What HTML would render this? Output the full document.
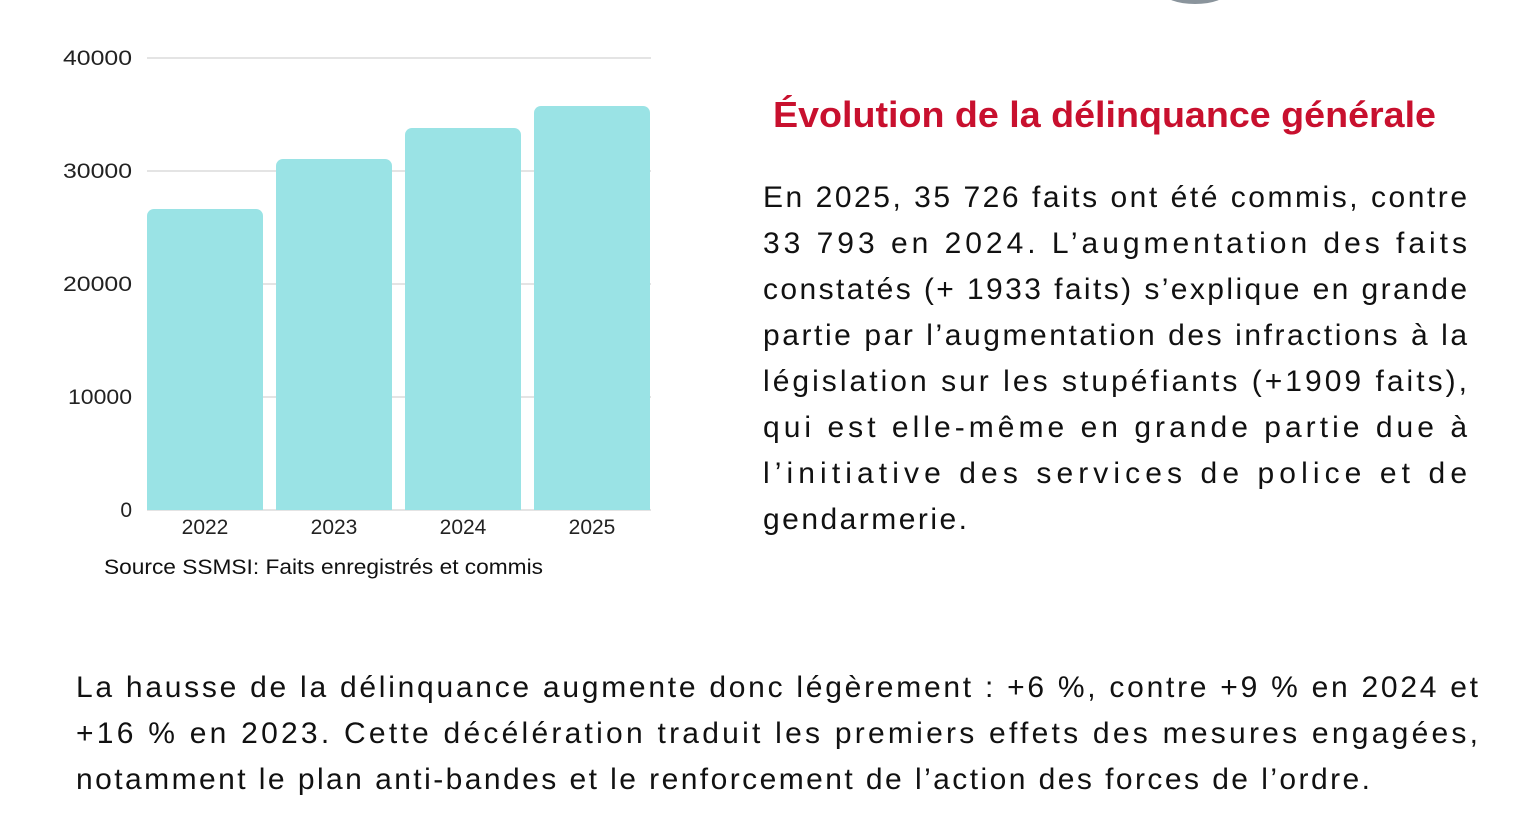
<!DOCTYPE html>
<html><head><meta charset="utf-8"><style>
html,body{margin:0;padding:0;background:#fff;}
svg{display:block;}
text{font-family:"Liberation Sans",sans-serif;}
</style></head><body>
<svg width="1516" height="822" viewBox="0 0 1516 822" xmlns="http://www.w3.org/2000/svg">
<ellipse cx="1195" cy="-8" rx="32" ry="12" fill="#8a949c"/>
<g stroke="#dcdcdc" stroke-width="1.5">
<line x1="147" y1="58" x2="651" y2="58"/>
<line x1="147" y1="171" x2="651" y2="171"/>
<line x1="147" y1="284" x2="651" y2="284"/>
<line x1="147" y1="397" x2="651" y2="397"/>
<line x1="147" y1="510" x2="651" y2="510"/>
</g>
<g fill="#9ae3e5">
<rect x="147" y="209" width="116" height="301" rx="7"/>
<rect x="147" y="490" width="116" height="20"/>
<rect x="276" y="159" width="116" height="351" rx="7"/>
<rect x="276" y="490" width="116" height="20"/>
<rect x="405" y="128" width="116" height="382" rx="7"/>
<rect x="405" y="490" width="116" height="20"/>
<rect x="534" y="106" width="116" height="404" rx="7"/>
<rect x="534" y="490" width="116" height="20"/>
</g>
<g font-size="21" fill="#222" text-anchor="end">
<text x="132" y="65" textLength="69" lengthAdjust="spacingAndGlyphs">40000</text>
<text x="132" y="178" textLength="69" lengthAdjust="spacingAndGlyphs">30000</text>
<text x="132" y="291" textLength="69" lengthAdjust="spacingAndGlyphs">20000</text>
<text x="132" y="404" textLength="64" lengthAdjust="spacingAndGlyphs">10000</text>
<text x="132" y="517">0</text>
</g>
<g font-size="21" fill="#222" text-anchor="middle">
<text x="205" y="534">2022</text>
<text x="334" y="534">2023</text>
<text x="463" y="534">2024</text>
<text x="592" y="534">2025</text>
</g>
<text x="104" y="574" font-size="21" fill="#111" textLength="439" lengthAdjust="spacingAndGlyphs">Source SSMSI:  Faits enregistrés et commis</text>
<text x="773" y="127" font-size="36" font-weight="bold" fill="#c8102e" textLength="663" lengthAdjust="spacingAndGlyphs">Évolution de la délinquance générale</text>
<g font-size="30" fill="#111">
<text x="763" y="207" textLength="704" lengthAdjust="spacing">En 2025, 35 726 faits ont été commis, contre</text>
<text x="763" y="253" textLength="704" lengthAdjust="spacing">33 793 en 2024. L’augmentation des faits</text>
<text x="763" y="299" textLength="704" lengthAdjust="spacing">constatés (+ 1933 faits) s’explique en grande</text>
<text x="763" y="345" textLength="704" lengthAdjust="spacing">partie par l’augmentation des infractions à la</text>
<text x="763" y="391" textLength="704" lengthAdjust="spacing">législation sur les stupéfiants (+1909 faits),</text>
<text x="763" y="437" textLength="704" lengthAdjust="spacing">qui est elle-même en grande partie due à</text>
<text x="763" y="483" textLength="704" lengthAdjust="spacing">l’initiative des services de police et de</text>
<text x="763" y="529" textLength="204" lengthAdjust="spacing">gendarmerie.</text>
<text x="76" y="697" textLength="1402" lengthAdjust="spacing">La hausse de la délinquance augmente donc légèrement : +6 %, contre +9 % en 2024 et</text>
<text x="76" y="743" textLength="1402" lengthAdjust="spacing">+16 % en 2023. Cette décélération traduit les premiers effets des mesures engagées,</text>
<text x="76" y="789" textLength="1294" lengthAdjust="spacing">notamment le plan anti-bandes et le renforcement de l’action des forces de l’ordre.</text>
</g>
</svg>
</body></html>
